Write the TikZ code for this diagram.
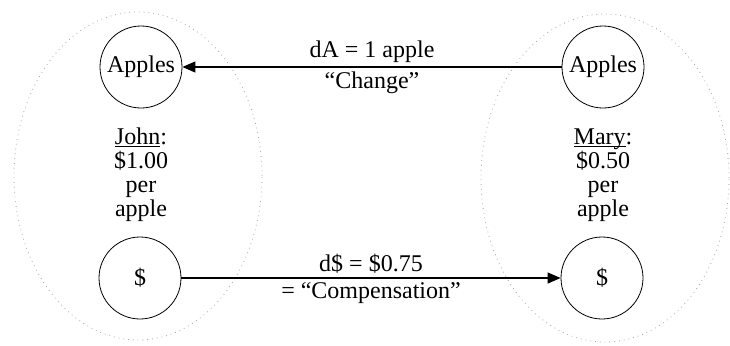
\documentclass[tikz,border=0pt]{standalone}
\usepackage{fontspec}
\setmainfont{Liberation Serif}[Ligatures=TeX]
\usetikzlibrary{arrows.meta,positioning,shapes.geometric}
\tikzset{
  party/.style={draw=gray!70,dotted,ellipse,minimum width=124pt,minimum height=164pt,inner sep=0pt},
  good/.style={draw,circle,minimum size=41pt,inner sep=0pt,font=\rmfamily\fontsize{12}{12}\selectfont},
  who/.style={align=center,font=\rmfamily\fontsize{12}{12}\selectfont},
  arr/.style={-{Triangle[length=6.5pt,width=5.5pt]},semithick},
  lbl/.style={font=\rmfamily\fontsize{12}{12}\selectfont,align=center,inner sep=2pt}
}
\begin{document}
\begin{tikzpicture}[x=0.5pt,y=0.5pt]
  \useasboundingbox (0,0) rectangle (730,345);
  \node[party] (jset) at (138,169) {};
  \node[party] (mset) at (605,167) {};

  \node[good] (applesJ) at (141,278) {Apples};
  \node[good] (cashJ) at (140,67) {\$};
  \node[good] (applesM) at (603,278) {Apples};
  \node[good] (cashM) at (602,67) {\$};

  \node[who] (john) at (141,168) {\underline{\smash{John}}:\\\$1.00\\per\\apple};
  \node[who] (mary) at (603,168) {\underline{\smash{Mary}}:\\\$0.50\\per\\apple};

  \draw[arr] (applesM) -- node[lbl,above] {dA = 1 apple} node[lbl,below] {``Change''} (applesJ);
  \draw[arr] (cashJ) -- node[lbl,above] {d\$ = \$0.75} node[lbl,below] {= ``Compensation''} (cashM);
\end{tikzpicture}
\end{document}
